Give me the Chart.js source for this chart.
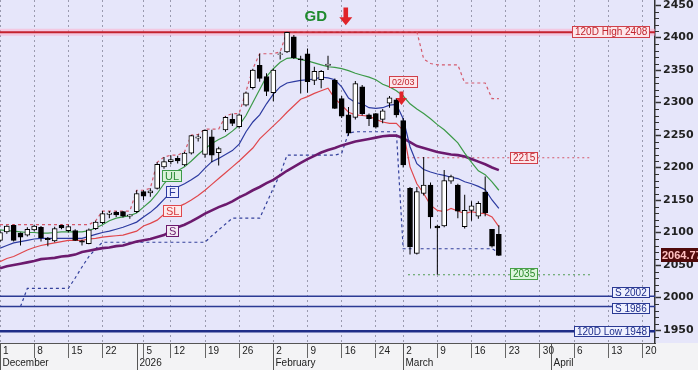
<!DOCTYPE html>
<html>
<head>
<meta charset="utf-8">
<title>Daily chart</title>
<script src="https://cdn.jsdelivr.net/npm/chart.js@4.4.1/dist/chart.umd.min.js"></script>
<style>
  html, body { margin: 0; padding: 0; background: #e6e6fa; overflow: hidden; }
  #box { width: 698px; height: 370px; }
</style>
</head>
<body>
<div id="box"><canvas id="daily" width="698" height="370"></canvas></div>
<script>
//#####################
// Data (one entry per trading day, x = day index)
//#####################
const opens = [2088,2101,2111,2099,2096,2104,2108,2091,2087,2111,
  2103,2103,2087,2083,2106,2115,2128,2131,2132,2125,
  2132,2163,2161,2168,2201,2209,2214,2204,2222,2245,
  2220,2247,2223,2258,2274,2263,2296,2323,2357,2340,
  2315,2374,2378,2401,2367,2375,2334,2335,2357,2334,
  2306,2281,2277,2324,2281,2283,2274,2299,2304,2272,
  2168,2068,2160,2173,2110,2110,2179,2173,2109,2134,
  2125,2162,2105,2097];
const highs = [2103,2111,2112,2100,2108,2112,2110,2093,2109,2112,
  2112,2105,2089,2106,2118,2133,2133,2133,2133,2128,
  2165,2165,2168,2208,2216,2219,2218,2224,2250,2251,
  2259,2258,2232,2279,2283,2283,2317,2352,2375,2345,
  2352,2378,2409,2404,2372,2383,2355,2350,2372,2337,
  2310,2293,2333,2327,2283,2284,2290,2310,2307,2276,
  2170,2170,2216,2177,2112,2196,2189,2175,2158,2148,
  2148,2186,2105,2111];
const lows = [2085,2098,2086,2080,2094,2102,2086,2079,2085,2105,
  2100,2087,2080,2082,2104,2113,2122,2124,2123,2121,
  2130,2150,2155,2166,2198,2205,2206,2202,2220,2240,
  2215,2208,2203,2255,2264,2260,2294,2320,2332,2310,
  2302,2366,2376,2367,2314,2315,2327,2322,2350,2290,
  2276,2249,2274,2280,2264,2260,2268,2292,2277,2200,
  2066,2066,2157,2106,2035,2108,2175,2122,2106,2118,
  2121,2125,2077,2064];
const closes = [2100,2110,2088,2093,2105,2110,2092,2089,2106,2107,
  2109,2088,2085,2104,2116,2129,2130,2127,2125,2127,
  2160,2156,2164,2205,2209,2212,2210,2222,2249,2247,
  2257,2219,2229,2277,2268,2281,2315,2350,2337,2317,
  2350,2375,2408,2369,2366,2332,2348,2348,2359,2291,
  2279,2253,2329,2283,2275,2262,2287,2307,2281,2204,
  2078,2163,2173,2124,2107,2180,2186,2133,2134,2141,
  2145,2130,2079,2064.77];

// indicator lines
const ulLine = [2104,2103,2102,2101,2100,2100,2099,2099,2100,2101,
  2101,2101,2101,2103,2107,2112,2118,2122,2124,2126,
  2130,2139,2148,2160,2175,2187,2195,2201,2210,2220,
  2229,2237,2243,2248,2256,2265,2280,2300,2320,2340,
  2352,2362,2368,2369,2366,2364,2361,2358,2355,2354,
  2352,2349,2345,2342,2339,2335,2328,2324,2318,2310,
  2298,2290,2283,2275,2266,2258,2248,2238,2222,2208,
  2195,2189,2178,2165];
const fLine = [2076,2080,2084,2086,2088,2090,2091,2091,2091,2091,
  2091,2091,2091,2094,2097,2100,2102,2105,2108,2112,
  2116,2124,2131,2140,2151,2162,2170,2175,2181,2188,
  2199,2209,2214,2220,2226,2236,2255,2270,2281,2298,
  2313,2324,2330,2332,2334,2335,2336,2339,2338,2335,
  2324,2307,2300,2298,2292,2291,2292,2296,2297,2275,
  2232,2206,2197,2193,2190,2188,2185,2183,2178,2175,
  2171,2166,2150,2137];
const slLine = [2055,2060,2063,2068,2073,2077,2080,2082,2084,2086,
  2088,2088,2088,2090,2091,2093,2094,2095,2096,2099,
  2102,2110,2114,2119,2128,2133,2139,2144,2150,2157,
  2165,2174,2183,2192,2201,2210,2220,2230,2244,2254,
  2264,2274,2285,2295,2305,2309,2314,2318,2322,2306,
  2296,2285,2281,2280,2279,2274,2270,2268,2268,2257,
  2201,2175,2160,2142,2134,2132,2137,2133,2129,2132,
  2130,2129,2124,2109];
const sLine = [2045,2048,2050,2052,2054,2056,2059,2060,2061,2063,
  2064,2066,2070,2072,2074,2076,2077,2079,2080,2083,
  2086,2088,2090,2093,2096,2102,2108,2112,2117,2123,
  2129,2134,2139,2143,2148,2154,2159,2165,2170,2176,
  2181,2188,2195,2201,2207,2213,2218,2223,2227,2230,
  2234,2237,2240,2242,2244,2246,2248,2249,2249,2245,
  2239,2233,2230,2227,2224,2222,2220,2219,2217,2213,
  2209,2205,2200,2196];
const highTrail = [2112,2112,2112,2112,2112,2112,2112,2112,2112,2112,
  2112,2112,2112,2112,2118,2133,2133,2133,2133,2133,
  2165,2165,2168,2208,2216,2219,2219,2224,2250,2251,
  2259,2259,2259,2279,2283,2283,2317,2352,2375,2375,
  2375,2378,2409,2409,2409,2409,2409,2409,2409,2409,
  2409,2409,2409,2409,2409,2409,2409,2409,2409,2409,
  2409,2409,2367,2360,2358,2358,2358,2358,2330,2330,
  2330,2330,2306,2306];
const lowTrail = [null,null,null,1986,2014,2014,2014,2014,2014,2014,
  2014,2030,2047,2063,2075,2085,2085,2085,2085,2085,
  2085,2085,2085,2085,2085,2085,2085,2085,2085,2085,
  2085,2095,2104,2113,2122,2122,2122,2122,2122,2145,
  2168,2190,2219,2219,2219,2219,2219,2219,2219,2219,
  2222,2253,2255,2255,2255,2255,2255,2255,2255,2075,
  2075,2075,2075,2075,2075,2075,2075,2075,2075,2075,
  2075,2075,2075,2069];

// horizontal levels
const levelValues = [2408, 2002, 1986, 1948];
const levelLabels = ['120D High 2408', 'S 2002', 'S 1986', '120D Low 1948'];
const markValues = [2215, 2035];
const markLabels = ['2215', '2035'];

// axis ticks
const weekTicks = [0,5,10,15,21,25,30,35,40,45,50,55,59,64,69,74,79,84,89,94];
const weekLabels = ['1','8','15','22','5','12','19','26','2','9','16','24','2','9','16','23','30','6','13','20'];
const monthTicks = [0, 20, 40, 59, 80.7];
const monthLabels = ['December','2026','February','March','April'];
const priceTicks = [1950,2000,2050,2100,2150,2200,2250,2300,2350,2400,2450];

//#####################
// Helpers
//#####################
const X_MAX = 95.85;
const toPts = arr => arr.map((v, i) => ({x: i, y: v}));
const flat = (v, from, to) => [{x: from, y: v}, {x: to, y: v}];

const lineSet = (label, data, color, width, order, dash) => ({
    type: 'line', label, data, borderColor: color, borderWidth: width,
    borderDash: dash || [], pointRadius: 0, fill: false, tension: 0, order
});

const tag = (ctx, text, x, y, align, c) => {
    ctx.font = c.font;
    const w = Math.round(ctx.measureText(text).width) + 6;
    const h = c.h || 12;
    const left = Math.round(align === 'right' ? x - w : align === 'center' ? x - w / 2 : x);
    const top = Math.round(y - h / 2);
    ctx.fillStyle = c.fill;
    ctx.fillRect(left, top, w, h);
    ctx.strokeStyle = c.stroke;
    ctx.lineWidth = 1;
    ctx.strokeRect(left + 0.5, top + 0.5, w - 1, h - 1);
    ctx.fillStyle = c.color;
    ctx.textAlign = 'left';
    ctx.textBaseline = 'middle';
    ctx.fillText(text, left + 3, top + h / 2 + 0.5);
};

const downArrow = (ctx, cx, top, bottom, half, shaft, head, color) => {
    ctx.beginPath();
    ctx.moveTo(cx - shaft, top);
    ctx.lineTo(cx + shaft, top);
    ctx.lineTo(cx + shaft, bottom - head);
    ctx.lineTo(cx + half, bottom - head);
    ctx.lineTo(cx, bottom);
    ctx.lineTo(cx - half, bottom - head);
    ctx.lineTo(cx - shaft, bottom - head);
    ctx.closePath();
    ctx.fillStyle = color;
    ctx.fill();
};

//#####################
// Datasets
//#####################
const bodyData = opens.map((o, i) => ({x: i, y: [Math.min(o, closes[i]), Math.max(o, closes[i])]}));
const wickData = opens.map((o, i) => ({x: i, y: [lows[i], highs[i]]}));
const bodyFill = opens.map((o, i) => closes[i] >= o ? '#ffffff' : '#000000');

const levelColors = ['#c4222e', '#2b3a94', '#2b3a94', '#1f2d88'];
const levelWidths = [2, 1.5, 1.5, 2.5];
const levelTagShift = [0, -3.5, 1.5, 0];

const datasets = [
    {type: 'bar', label: 'body', data: bodyData, backgroundColor: bodyFill, borderColor: '#000',
     borderWidth: 1, borderSkipped: false, barThickness: 5, grouped: false, order: 0},
    {type: 'bar', label: 'wick', data: wickData, backgroundColor: '#000', borderWidth: 0,
     barThickness: 1, grouped: false, inflateAmount: 0, order: 1},
    lineSet('UL', toPts(ulLine), '#3c9a48', 1.2, 4),
    lineSet('F', toPts(fLine), '#2c3aa0', 1.2, 5),
    lineSet('SL', toPts(slLine), '#e0474c', 1.2, 6),
    lineSet('S', toPts(sLine), '#6c1a6e', 2.6, 7),
    lineSet('high trail', toPts(highTrail), '#d45a6c', 1.2, 8, [3, 3]),
    lineSet('low trail', toPts(lowTrail), '#34419c', 1.2, 9, [3, 3]),
    lineSet(markLabels[0], flat(markValues[0], 59.6, 86.6), '#d45a6c', 1.2, 10, [2, 3]),
    lineSet(markLabels[1], flat(markValues[1], 59.7, 86.6), '#4f9a4f', 1.2, 10, [2, 3]),
    lineSet('glow', flat(levelValues[0], 0, X_MAX), 'rgba(255,170,200,0.5)', 7, 22)
];
levelValues.forEach((v, i) => {
    datasets.push(lineSet(levelLabels[i], flat(v, 0, X_MAX), levelColors[i], levelWidths[i], 20));
});

//#####################
// Decorations: background, tags, arrows, month row
//#####################
const lineTags = [
    {text: 'UL', data: ulLine, stroke: '#3c9a48', fill: '#d9f2d9', color: '#2a8a36'},
    {text: 'F', data: fLine, stroke: '#2c3aa0', fill: '#eeeeff', color: '#2c3aa0'},
    {text: 'SL', data: slLine, stroke: '#e0474c', fill: '#fdeaea', color: '#d83a40'},
    {text: 'S', data: sLine, stroke: '#6c1a6e', fill: '#f3eaf3', color: '#6c1a6e'}
];
const redTag = {font: '10px "Liberation Sans"', stroke: '#d0404a', fill: '#fde6ea', color: '#c0242e'};
const navyTag = {font: '10px "Liberation Sans"', stroke: '#2b3a94', fill: '#eef0ff', color: '#1e2d8a', h: 11};
const greenTag = {font: '10px "Liberation Sans"', stroke: '#48a048', fill: '#dcf5dc', color: '#2a8a2a'};

const decor = {
    id: 'decor',
    beforeDraw(chart) {
        const {ctx, chartArea: a, width, height} = chart;
        ctx.save();
        ctx.fillStyle = '#e6e6fa';
        ctx.fillRect(0, 0, width, height);
        ctx.fillStyle = '#f3f3f5';
        ctx.fillRect(0, a.bottom, width, height - a.bottom);
        ctx.restore();
    },
    afterDatasetsDraw(chart) {
        const {ctx, scales: {x, y}} = chart;
        ctx.save();
        // level tags on the right
        levelValues.forEach((v, i) => {
            tag(ctx, levelLabels[i], 650, y.getPixelForValue(v) + levelTagShift[i], 'right', i === 0 ? redTag : navyTag);
        });
        // short levels
        tag(ctx, markLabels[0], x.getPixelForValue(74.6), y.getPixelForValue(markValues[0]), 'left', redTag);
        tag(ctx, markLabels[1], x.getPixelForValue(74.6), y.getPixelForValue(markValues[1]) - 1, 'left', greenTag);
        // line names
        lineTags.forEach(t => {
            tag(ctx, t.text, x.getPixelForValue(25.2), y.getPixelForValue(t.data[25]), 'center',
                {font: '11px "Liberation Sans"', h: 12, stroke: t.stroke, fill: t.fill, color: t.color});
        });
        // signals
        tag(ctx, '02/03', x.getPixelForValue(59), y.getPixelForValue(2332), 'center',
            Object.assign({}, redTag, {font: '9px "Liberation Sans"', h: 12}));
        downArrow(ctx, x.getPixelForValue(58.75), y.getPixelForValue(2317), y.getPixelForValue(2296), 5.5, 2, 7, '#e0242a');
        ctx.font = 'bold 15px "Liberation Sans"';
        ctx.fillStyle = '#1f8a2e';
        ctx.textAlign = 'center';
        ctx.textBaseline = 'middle';
        ctx.fillText('GD', x.getPixelForValue(46.2), y.getPixelForValue(2431));
        downArrow(ctx, x.getPixelForValue(50.6), y.getPixelForValue(2446), y.getPixelForValue(2419), 6.5, 2.3, 8, '#e0242a');
        ctx.restore();
    },
    afterDraw(chart) {
        const {ctx, chartArea: a, scales: {x, y}, height} = chart;
        ctx.save();
        // month row
        ctx.strokeStyle = '#555';
        ctx.lineWidth = 1;
        ctx.font = '10px "Liberation Sans"';
        ctx.fillStyle = '#222';
        ctx.textAlign = 'left';
        ctx.textBaseline = 'middle';
        monthTicks.forEach((m, i) => {
            const px = Math.round(x.getPixelForValue(m)) + 0.5;
            ctx.beginPath();
            ctx.moveTo(px, a.bottom);
            ctx.lineTo(px, height);
            ctx.stroke();
            ctx.fillText(monthLabels[i], px + 2, height - 7);
        });
        // minor price ticks
        ctx.strokeStyle = '#333';
        for (let v = 1940; v < 2458; v += 10) {
            if (v % 50 === 0) continue;
            const py = Math.round(y.getPixelForValue(v)) + 0.5;
            ctx.beginPath();
            ctx.moveTo(a.right, py);
            ctx.lineTo(a.right + 4, py);
            ctx.stroke();
        }
        // last price tag
        const last = closes[closes.length - 1];
        const py = y.getPixelForValue(last);
        ctx.fillStyle = '#500a0a';
        ctx.fillRect(661, Math.round(py - 7), 40, 14);
        ctx.fillStyle = '#ffc0c0';
        ctx.font = 'bold 11px "Liberation Sans"';
        ctx.fillText(last.toFixed(2), 662, py + 0.5);
        ctx.restore();
    }
};

//#####################
// Chart
//#####################
Chart.defaults.font.family = "'Liberation Sans', Arial, sans-serif";

new Chart(document.getElementById('daily'), {
    type: 'line',
    data: {datasets},
    options: {
        responsive: false,
        animation: false,
        devicePixelRatio: 1,
        events: [],
        layout: {padding: 0, autoPadding: false},
        plugins: {legend: {display: false}, tooltip: {enabled: false}},
        scales: {
            x: {
                type: 'linear', position: 'bottom', min: 0, max: X_MAX, offset: false,
                afterBuildTicks: s => { s.ticks = weekTicks.map(v => ({value: v})); },
                afterFit: s => { s.height = 27; s.paddingLeft = 0; s.paddingRight = 0; },
                ticks: {
                    autoSkip: false, maxRotation: 0, minRotation: 0, align: 'start',
                    labelOffset: 3, padding: -13, color: '#222', font: {size: 10},
                    callback: (v, i) => weekLabels[i]
                },
                grid: {offset: false, color: '#9a9aae', lineWidth: 1, drawTicks: true,
                       tickLength: 15, tickColor: '#666'},
                border: {display: true, color: '#555', width: 1, dash: [2, 3]}
            },
            y: {
                type: 'linear', position: 'right', min: 1930, max: 2457.7,
                afterBuildTicks: s => { s.ticks = priceTicks.map(v => ({value: v})); },
                afterFit: s => { s.width = 43; s.paddingTop = 0; s.paddingBottom = 0; },
                ticks: {
                    color: '#222', padding: 2,
                    font: {family: "'DejaVu Sans', sans-serif", size: 11, weight: 'bold'},
                    callback: v => String(v)
                },
                grid: {drawOnChartArea: false, drawTicks: true, tickLength: 6, tickColor: '#333', tickWidth: 1.5},
                border: {display: true, color: '#333', width: 1.5}
            }
        }
    },
    plugins: [decor]
});
</script>
</body>
</html>
